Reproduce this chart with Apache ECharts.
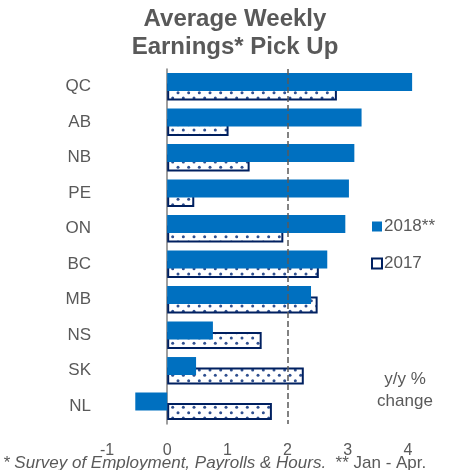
<!DOCTYPE html>
<html>
<head>
<meta charset="utf-8">
<script src="https://cdn.jsdelivr.net/npm/echarts@6/dist/echarts.min.js"></script>
<style>
    html, body { margin: 0; padding: 0; background: #fff; }
    #chart { width: 451px; height: 470px; }
</style>
</head>
<body>
<div id="chart"></div>
<script>
var provinces = ['QC', 'AB', 'NB', 'PE', 'ON', 'BC', 'MB', 'NS', 'SK', 'NL'];
var earnings2018 = [4.07, 3.23, 3.11, 3.02, 2.96, 2.66, 2.39, 0.76, 0.48, -0.53];
var earnings2017 = [2.82, 1.02, 1.37, 0.45, 1.93, 2.52, 2.50, 1.57, 2.27, 1.74];
var xTicks = [-1, 0, 1, 2, 3, 4];

(function () {
    var grey = '#595959';
    var blue = '#0070c0';
    var navy = '#002060';

    // white fill with staggered navy dots, like the excel pattern
    function dotPattern() {
        var c = document.createElement('canvas');
        c.width = 32;
        c.height = 32;
        var ctx = c.getContext('2d');
        ctx.fillStyle = '#fff';
        ctx.fillRect(0, 0, 32, 32);
        ctx.fillStyle = '#2f4f8f';
        var step = 32 / 3;
        for (var i = 0; i < 3; i++) {
            for (var j = 0; j < 3; j++) {
                ctx.beginPath();
                ctx.arc(2 + i * step, 2 + j * step, 1.5, 0, Math.PI * 2);
                ctx.fill();
                ctx.beginPath();
                ctx.arc(2 + (i + 0.5) * step, 2 + (j + 0.5) * step, 1.5, 0, Math.PI * 2);
                ctx.fill();
            }
        }
        return c;
    }

    var myChart = echarts.init(document.getElementById('chart'));
    myChart.setOption({
        animation: false,
        title: [{
            text: 'Average Weekly\nEarnings* Pick Up',
            left: 230,
            top: 0,
            textAlign: 'center',
            textStyle: {
                fontFamily: 'Liberation Sans',
                fontSize: 24,
                fontWeight: 'bold',
                color: grey,
                lineHeight: 28,
                align: 'center'
            }
        }, {
            text: '{i|* Survey of Employment, Payrolls & Hours.}{n|  ** Jan - Apr.}',
            left: -2,
            top: 450,
            textStyle: {
                rich: {
                    i: {fontFamily: 'Liberation Sans', fontSize: 17, fontStyle: 'italic', fontWeight: 'normal', color: grey},
                    n: {fontFamily: 'Liberation Sans', fontSize: 17, fontWeight: 'normal', color: grey}
                }
            }
        }, {
            text: 'y/y %\nchange',
            left: 400,
            top: 363,
            textAlign: 'center',
            textStyle: {
                fontFamily: 'Liberation Sans',
                fontSize: 17,
                fontWeight: 'normal',
                color: grey,
                lineHeight: 22,
                align: 'center'
            }
        }],
        legend: {
            orient: 'vertical',
            left: 366,
            top: 213,
            itemWidth: 10,
            itemHeight: 10,
            itemGap: 20,
            textStyle: {
                fontFamily: 'Liberation Sans',
                fontSize: 17,
                color: grey,
                padding: [0, 0, 0, -3]
            },
            data: [{
                name: '2018**',
                icon: 'rect',
                itemStyle: {color: blue, borderWidth: 0}
            }, {
                name: '2017',
                icon: 'rect',
                itemStyle: {color: '#fff', borderColor: navy, borderWidth: 2}
            }]
        },
        grid: {
            left: 107,
            right: 13,
            top: 69,
            bottom: 46,
            containLabel: false
        },
        xAxis: {
            type: 'value',
            min: -1,
            max: 4.5,
            interval: 0.5,
            splitLine: {show: false},
            axisLine: {lineStyle: {color: '#7f7f7f', width: 1.5}},
            axisTick: {inside: true, length: 4, lineStyle: {color: '#7f7f7f', width: 1.5}},
            axisLabel: {
                fontFamily: 'Liberation Sans',
                fontSize: 16,
                color: grey,
                margin: 19,
                formatter: function (v) {
                    return xTicks.indexOf(v) > -1 ? String(v) : '';
                }
            }
        },
        yAxis: {
            type: 'category',
            inverse: true,
            data: provinces,
            axisLine: {onZero: true, lineStyle: {color: '#7f7f7f', width: 1.5}},
            axisTick: {inside: true, length: 5, lineStyle: {color: '#7f7f7f', width: 1.5}},
            axisLabel: {
                fontFamily: 'Liberation Sans',
                fontSize: 17,
                color: grey,
                margin: 16
            }
        },
        series: [{
            name: '2018**',
            type: 'bar',
            data: earnings2018,
            barWidth: 18,
            barGap: '-42%',
            z: 3,
            itemStyle: {color: blue}
        }, {
            name: '2017',
            type: 'bar',
            data: earnings2017,
            barWidth: 17,
            z: 2,
            itemStyle: {
                color: {image: dotPattern(), repeat: 'repeat'},
                borderColor: navy,
                borderWidth: 2
            },
            markLine: {
                silent: true,
                symbol: 'none',
                label: {show: false},
                lineStyle: {type: 'dashed', color: grey, width: 1.5},
                data: [{xAxis: 2}]
            }
        }]
    });
})();
</script>
</body>
</html>
